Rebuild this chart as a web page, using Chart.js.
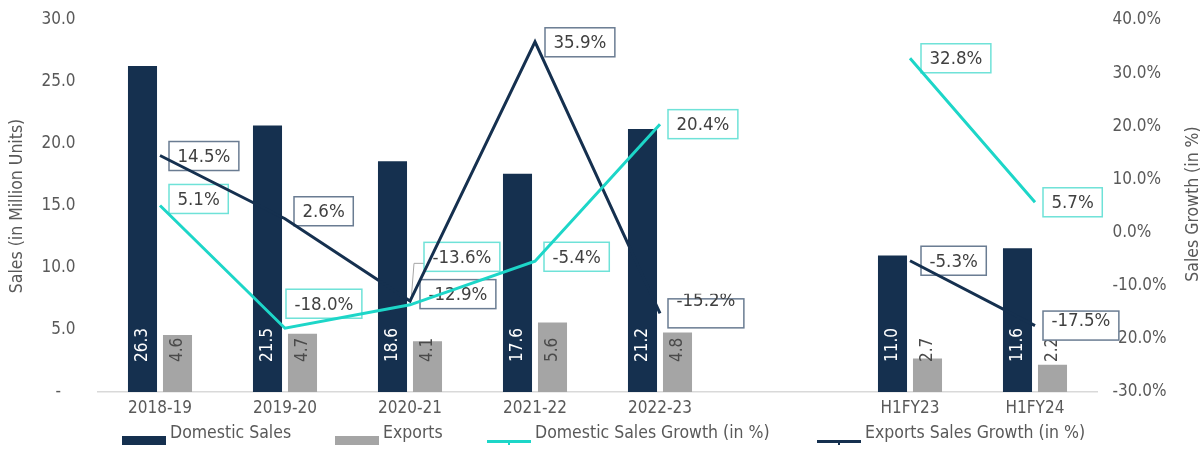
<!DOCTYPE html>
<html><head><meta charset="utf-8">
<script src="https://cdn.jsdelivr.net/npm/chart.js@4.4.0/dist/chart.umd.min.js"></script>
<style>html,body{margin:0;padding:0;background:#fff}#wrap{position:relative;width:1202px;height:450px}</style>
</head><body><div id="wrap"><canvas id="c"></canvas></div>
<script>
const categories = ['2018-19','2019-20','2020-21','2021-22','2022-23','','H1FY23','H1FY24'];
const domesticSales = [26.3,21.5,18.6,17.6,21.2,null,11.0,11.6];
const exportsSales = [4.6,4.7,4.1,5.6,4.8,null,2.7,2.2];
const domesticGrowth = [5.1,-18.0,-13.6,-5.4,20.4,null,32.8,5.7];
const exportsGrowth = [14.5,2.6,-12.9,35.9,-15.2,null,-5.3,-17.5];
const salesTicks = [0,5,10,15,20,25,30];
const growthTicks = [-30,-20,-10,0,10,20,30,40];
const seriesNames = ['Domestic Sales','Exports','Domestic Sales Growth (in %)','Exports Sales Growth (in %)'];

const FONT = "'DejaVu Sans Condensed','DejaVu Sans',sans-serif";
const NAVY = '#15304F', GRAY = '#A5A5A5', CYAN = '#1DD6C8', TXT = '#595959';

// label placement tweaks (pixels), per point
const labelPlace = {
  2: {dx:[9,1,14,9,8,0,11,8], dy:[-6.5,-24.5,-48,-4.5,0,0,0,0], tdy:[0,0,0,0,0,0,0,0], border:'#6FE2D8'},
  3: {dx:[9,9,10,10,8,0,11,8], dy:[0.5,-7.5,-7,0.5,0,0,0,0], tdy:[0,0,0,0,-13.5,0,0,-5], border:'#6A7C92'}
};

function drawLabels(chart){
  const ctx = chart.ctx;
  // bar value labels
  [[0,'#FFFFFF'],[1,'#4A4A4A']].forEach(([di,color])=>{
    const meta = chart.getDatasetMeta(di);
    meta.data.forEach((el,i)=>{
      const v = chart.data.datasets[di].data[i];
      if(v==null) return;
      ctx.save();
      ctx.translate(el.x, el.base - 30);
      ctx.rotate(-Math.PI/2);
      ctx.font = '17px '+FONT;
      ctx.fillStyle = color; ctx.textAlign='left'; ctx.textBaseline='middle';
      ctx.fillText(v.toFixed(1),0,0);
      ctx.restore();
    });
  });
  // line value labels (drawn under the lines)
  [2,3].forEach(di=>{
    const meta = chart.getDatasetMeta(di);
    const p = labelPlace[di];
    meta.data.forEach((el,i)=>{
      const v = chart.data.datasets[di].data[i];
      if(v==null) return;
      const txt = v.toFixed(1)+'%';
      ctx.save();
      ctx.font = '18.5px '+FONT;
      const w = ctx.measureText(txt).width + 17;
      const h = 29;
      const left = el.x + p.dx[i];
      const cy = el.y + p.dy[i];
      const top = cy - h/2;
      if (di===2 && i===2) {
        ctx.strokeStyle = '#A6A6A6'; ctx.lineWidth = 1;
        ctx.beginPath();
        ctx.moveTo(left, top+21); ctx.lineTo(left-10, top+21); ctx.lineTo(el.x+1, el.y-3);
        ctx.stroke();
      }
      ctx.fillStyle = '#FFFFFF';
      ctx.fillRect(left, top, w, h);
      ctx.strokeStyle = p.border; ctx.lineWidth = 1.5;
      ctx.strokeRect(left, top, w, h);
      if (p.tdy[i] < -10) { ctx.beginPath(); ctx.rect(left-2, top-5, w+4, h+10); ctx.clip(); }
      ctx.fillStyle = '#404040'; ctx.textAlign='left'; ctx.textBaseline='middle';
      ctx.fillText(txt, left+8.5, cy + 1 + p.tdy[i]);
      ctx.restore();
    });
  });
}

const overlay = {
  id:'overlay',
  beforeDatasetDraw(chart, args){
    if (args.index === 3) drawLabels(chart);
  },
  afterDraw(chart){
    const ctx = chart.ctx;
    // right axis title (reads bottom-to-top)
    ctx.save();
    ctx.translate(1193, 204);
    ctx.rotate(-Math.PI/2);
    ctx.font = '17.5px '+FONT; ctx.fillStyle = TXT;
    ctx.textAlign='center'; ctx.textBaseline='middle';
    ctx.fillText('Sales Growth (in %)',0,0);
    ctx.restore();
    // legend
    const items = [
      {x:122, type:'box', color:NAVY},
      {x:335, type:'box', color:GRAY},
      {x:487, type:'line', color:CYAN},
      {x:817, type:'line', color:NAVY}
    ];
    ctx.save();
    ctx.font = '17.5px '+FONT; ctx.textBaseline='middle'; ctx.textAlign='left';
    items.forEach((it,k)=>{
      if(it.type==='box'){ ctx.fillStyle = it.color; ctx.fillRect(it.x, 436, 44, 9); }
      else { ctx.fillStyle = it.color; ctx.fillRect(it.x, 440, 44, 3); ctx.fillRect(it.x+21, 443, 2, 2); }
      ctx.fillStyle = TXT;
      ctx.fillText(chart.data.datasets[k].label, it.x+48, 433);
    });
    ctx.restore();
  }
};

new Chart(document.getElementById('c'), {
  type:'bar',
  data:{
    labels: categories,
    datasets:[
      {label:seriesNames[0], data:domesticSales, backgroundColor:NAVY, yAxisID:'y', order:2, barPercentage:0.83, categoryPercentage:0.56},
      {label:seriesNames[1], data:exportsSales, backgroundColor:GRAY, yAxisID:'y', order:2, barPercentage:0.83, categoryPercentage:0.56},
      {label:seriesNames[2], type:'line', data:domesticGrowth, borderColor:CYAN, backgroundColor:CYAN, borderWidth:3, pointRadius:0, yAxisID:'y1', order:0, spanGaps:false, tension:0},
      {label:seriesNames[3], type:'line', data:exportsGrowth, borderColor:NAVY, backgroundColor:NAVY, borderWidth:3, pointRadius:0, yAxisID:'y1', order:0, spanGaps:false, tension:0}
    ]
  },
  options:{
    responsive:true, maintainAspectRatio:false, animation:false,
    layout:{padding:{top:20,left:0,right:0,bottom:0}},
    plugins:{legend:{display:false}, tooltip:{enabled:false}},
    scales:{
      x:{
        grid:{display:false, drawTicks:false},
        border:{display:true, color:'#D9D9D9', width:1.5},
        ticks:{color:TXT, font:{family:FONT, size:17}, padding:6, maxRotation:0, autoSkip:false},
        afterFit(s){ s.height = 58; s.paddingLeft = 0; s.paddingRight = 0; }
      },
      y:{
        position:'left', min:0, max:30,
        grid:{display:false, drawTicks:false}, border:{display:false},
        afterBuildTicks(s){ s.ticks = salesTicks.map(v=>({value:v})); },
        ticks:{color:TXT, font:{family:FONT, size:17}, padding:22,
          callback:v=> v===0 ? '-   ' : v.toFixed(1)},
        title:{display:true, text:'Sales (in Million Units)', color:TXT, font:{family:FONT, size:17.5}, padding:{top:7,bottom:0}},
        afterFit(s){ s.width = 97.5; s.paddingTop = 0; s.paddingBottom = 0; }
      },
      y1:{
        position:'right', min:-30, max:40,
        grid:{display:false, drawTicks:false}, border:{display:false},
        afterBuildTicks(s){ s.ticks = growthTicks.map(v=>({value:v})); },
        ticks:{color:TXT, font:{family:FONT, size:17}, padding:15,
          callback:v=> v.toFixed(1)+'%'},
        afterFit(s){ s.width = 104.5; s.paddingTop = 0; s.paddingBottom = 0; }
      }
    }
  },
  plugins:[overlay]
});
</script></body></html>
